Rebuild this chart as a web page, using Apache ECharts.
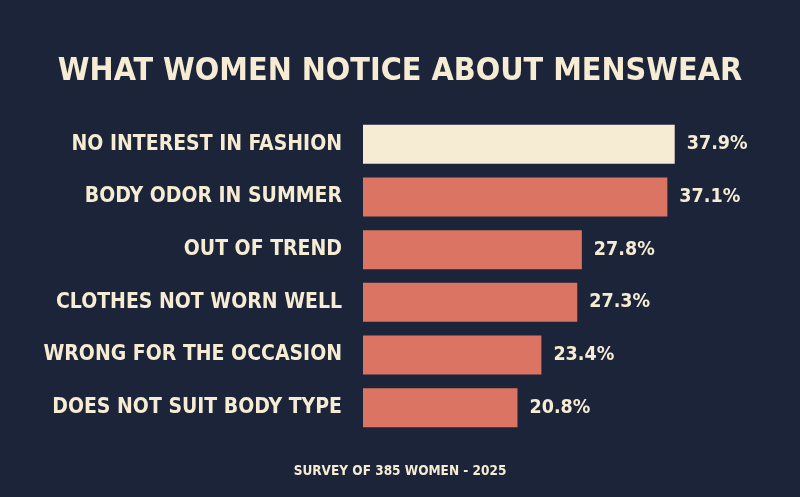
<!DOCTYPE html>
<html><head><meta charset="utf-8">
<script src="https://cdn.jsdelivr.net/npm/echarts@6/dist/echarts.min.js"></script>
<style>html,body{margin:0;padding:0;background:#1b2438;}#c{width:800px;height:497px;}</style>
</head><body><div id="c"></div>
<script>
const categories = ["NO INTEREST IN FASHION","BODY ODOR IN SUMMER","OUT OF TREND","CLOTHES NOT WORN WELL","WRONG FOR THE OCCASION","DOES NOT SUIT BODY TYPE"];
const values = [37.9,37.1,27.8,27.3,23.4,20.8];
const titleText = "WHAT WOMEN NOTICE ABOUT MENSWEAR";
const footerText = "SURVEY OF 385 WOMEN - 2025";

const FONT = "'Liberation Sans Narrow','DejaVu Sans Condensed',sans-serif";
const CREAM = '#f6ecd3';
const CORAL = '#dc7463';
const chart = echarts.init(document.getElementById('c'), null, {renderer:'canvas'});
chart.setOption({
  backgroundColor:'#1b2438',
  title:[
    {text:titleText,left:'center',top:51,textStyle:{color:CREAM,fontFamily:FONT,fontWeight:'bold',fontSize:32}},
    {text:footerText,left:'center',top:459,textStyle:{color:CREAM,fontFamily:FONT,fontWeight:'bold',fontSize:13.5}}
  ],
  grid:{left:363,right:60,top:118,bottom:63,containLabel:false},
  xAxis:{type:'value',min:4,max:45,show:false},
  yAxis:{type:'category',data:categories,inverse:true,
    axisLine:{show:false},axisTick:{show:false},
    axisLabel:{color:CREAM,fontFamily:FONT,fontWeight:'bold',fontSize:21,margin:21}},
  series:[{type:'bar',data:values.map((v,i)=>({value:v,itemStyle:{color:i===0?CREAM:CORAL}})),
    barWidth:39,
    label:{show:true,position:'right',distance:12,formatter:p=>p.value.toFixed(1)+'%',
      color:CREAM,fontFamily:FONT,fontWeight:'bold',fontSize:19.5},
    animation:false}]
});
</script></body></html>
